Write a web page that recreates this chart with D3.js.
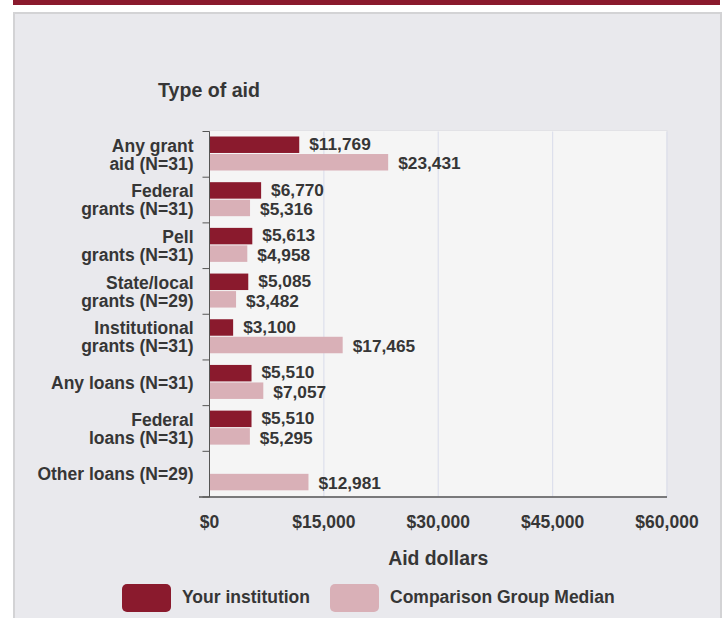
<!DOCTYPE html>
<html>
<head>
<meta charset="utf-8">
<script src="https://cdn.jsdelivr.net/npm/d3@7"></script>
<style>
  body { margin: 0; background: #ffffff; }
  text { font-family: "Liberation Sans", Arial, sans-serif; font-weight: bold; fill: #363636; }
</style>
</head>
<body>
<script>
// chart data
const categories = [
  ["Any grant", "aid (N=31)"],
  ["Federal", "grants (N=31)"],
  ["Pell", "grants (N=31)"],
  ["State/local", "grants (N=29)"],
  ["Institutional", "grants (N=31)"],
  ["Any loans (N=31)"],
  ["Federal", "loans (N=31)"],
  ["Other loans (N=29)"]
];
const series = ["Your institution", "Comparison Group Median"];
const yourValues = [11769, 6770, 5613, 5085, 3100, 5510, 5510, null];
const medianValues = [23431, 5316, 4958, 3482, 17465, 7057, 5295, 12981];
const xTicks = [0, 15000, 30000, 45000, 60000];

const colors = ["#8a1a2d", "#d9b0b7"];
const W = 726, H = 618;

const svg = d3.select("body").append("svg")
  .attr("width", W).attr("height", H);

// top brand stripe + panel
svg.append("rect").attr("x", 13).attr("y", 0).attr("width", 707).attr("height", 5).attr("fill", "#8a1a2d");
svg.append("rect").attr("x", 14).attr("y", 13).attr("width", 707).attr("height", 620)
  .attr("fill", "#e9e9ed").attr("stroke", "#d3d3d5").attr("stroke-width", 2);

const catKeys = categories.map((c, i) => i);
const y = d3.scaleBand().domain(catKeys).range([131.5, 497]);
const y1 = d3.scaleBand().domain([0, 1]).range([5, 39]).paddingInner(0.06);
const x = d3.scaleLinear().domain([0, 60000]).range([209.5, 667]);

// plot background
svg.append("rect")
  .attr("x", x(0)).attr("y", y.range()[0] - 1)
  .attr("width", x(60000) - x(0)).attr("height", y.range()[1] - y.range()[0] + 1)
  .attr("fill", "#f5f5f5").attr("stroke", "#e2e2e6");

// grid
svg.append("g").selectAll("line")
  .data(xTicks.slice(1))
  .join("line")
  .attr("x1", d => x(d)).attr("x2", d => x(d))
  .attr("y1", y.range()[0]).attr("y2", y.range()[1])
  .attr("stroke", "#dde0ec").attr("stroke-width", 1.2);

// bars
const rows = catKeys.map(i => ({ i, vals: [yourValues[i], medianValues[i]] }));
const g = svg.append("g").selectAll("g")
  .data(rows).join("g")
  .attr("transform", d => `translate(0,${y(d.i)})`);

g.selectAll("rect")
  .data(d => d.vals.map((v, k) => ({ v, k })).filter(e => e.v != null))
  .join("rect")
  .attr("x", x(0))
  .attr("y", e => y1(e.k))
  .attr("width", e => x(e.v) - x(0))
  .attr("height", y1.bandwidth())
  .attr("fill", e => colors[e.k]);

// value labels, nudged apart a little so the pairs don't collide
const fmt = d3.format(",");
g.selectAll("text")
  .data(d => d.vals.map((v, k) => ({ v, k })).filter(e => e.v != null))
  .join("text")
  .attr("x", e => x(e.v) + 10)
  .attr("y", e => y1(e.k) + y1.bandwidth() / 2 + (e.k === 0 ? -1 : 1))
  .attr("dy", "0.36em")
  .attr("font-size", 17.3)
  .text(e => "$" + fmt(e.v));

// left axis
const yAxis = svg.append("g").attr("transform", `translate(${x(0)},0)`);
yAxis.append("line").attr("y1", y.range()[0]).attr("y2", y.range()[1])
  .attr("stroke", "#555");
yAxis.selectAll(".tk")
  .data(catKeys.concat([categories.length]))
  .join("line")
  .attr("class", "tk")
  .attr("x1", -7).attr("x2", 0)
  .attr("y1", d => d < categories.length ? y(d) : y.range()[1])
  .attr("y2", d => d < categories.length ? y(d) : y.range()[1])
  .attr("stroke", "#555");

yAxis.selectAll(".cat")
  .data(categories)
  .join("text")
  .attr("class", "cat")
  .attr("text-anchor", "end")
  .attr("font-size", 17.5)
  .attr("x", -16)
  .attr("y", (c, i) => y(i) + y.bandwidth() / 2)
  .each(function (c) {
    const t = d3.select(this);
    c.forEach((line, j) => {
      t.append("tspan")
        .attr("x", -16)
        .attr("dy", j === 0 ? (0.36 - (c.length - 1) * 0.52) + "em" : "1.04em")
        .text(line);
    });
  });

// bottom axis
svg.append("line")
  .attr("x1", 199).attr("x2", x(60000))
  .attr("y1", y.range()[1]).attr("y2", y.range()[1])
  .attr("stroke", "#555").attr("stroke-width", 1.5);

svg.append("g").selectAll("text")
  .data(xTicks)
  .join("text")
  .attr("x", d => x(d))
  .attr("y", 528)
  .attr("text-anchor", "middle")
  .attr("font-size", 17.5)
  .text(d => "$" + fmt(d));

// titles
svg.append("text").attr("x", 158).attr("y", 97).attr("font-size", 19.6).text("Type of aid");
svg.append("text").attr("x", (x(0) + x(60000)) / 2).attr("y", 565)
  .attr("text-anchor", "middle").attr("font-size", 19.4).text("Aid dollars");

// legend
const legX = [122, 330];
const leg = svg.append("g").selectAll("g")
  .data(series).join("g")
  .attr("transform", (d, i) => `translate(${legX[i]},584)`);
leg.append("rect").attr("width", 49).attr("height", 28).attr("rx", 5)
  .attr("fill", (d, i) => colors[i]);
leg.append("text").attr("x", 60).attr("y", 13).attr("dy", "0.36em")
  .attr("font-size", 17.5).text(d => d);
</script>
</body>
</html>
